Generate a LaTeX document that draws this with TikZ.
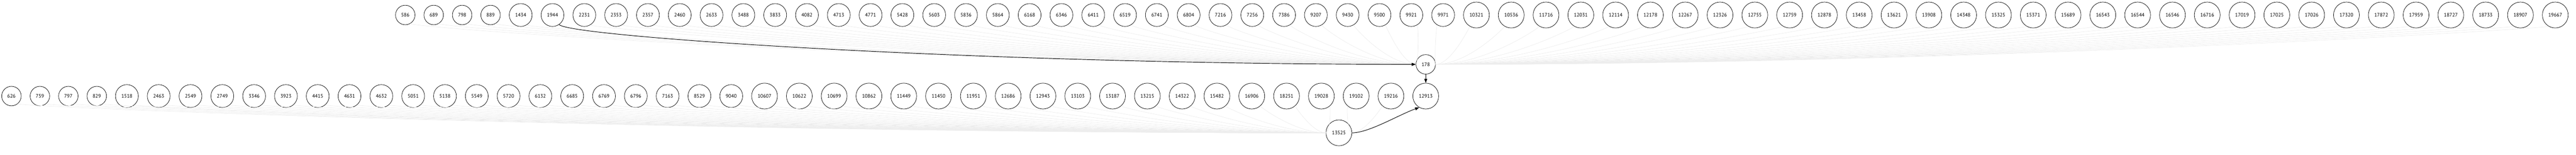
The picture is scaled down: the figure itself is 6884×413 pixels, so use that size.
\documentclass[tikz,border=0pt]{standalone}
\usepackage{fontspec}
\setmainfont{PT Sans}
\usetikzlibrary{positioning,calc,arrows.meta}

% pick the circle size from the number of digits
\newcommand\pickstyle[1]{\ifnum#1<1000 \def\sz{n3}\else\ifnum#1<10000 \def\sz{n4}\else\def\sz{n5}\fi\fi}

\begin{document}
\begin{tikzpicture}[x=1pt, y=1pt, font=\fontsize{13.5}{16}\selectfont]
    \tikzstyle{num}=[draw, circle, line width=1pt, inner sep=0pt]
    \tikzstyle{n3}=[minimum size=52pt]
    \tikzstyle{n4}=[minimum size=61pt]
    \tikzstyle{n5}=[minimum size=69pt]
    \tikzstyle{link}=[black!7, line width=1pt]
    \tikzstyle{edge}=[line width=1.3pt, -{Triangle[length=11pt,width=8pt]}]
    \useasboundingbox (0,0) rectangle (6884,-413);

    % top row
    \node[num,n3] (v586) at (1083,-40) {586};
    \foreach \n [remember=\n as \p (initially 586)] in {689,798,889,1434,1944,2231,2353,2357,2460,2633,3488,3833,4082,4713,4771,5428,5603,5836,5864,6168,6346,6411,6519,6741,6804,7216,7256,7386,9207,9430,9500,9921,9971,10321,10536,11716,12031,12114,12178,12267,12326,12755,12759,12878,13458,13621,13908,14348,15325,15371,15689,16543,16544,16546,16716,17019,17025,17026,17320,17872,17959,18727,18733,18907,19667} {
      \pickstyle{\n}
      \node[num,\sz,right=23pt of v\p] (v\n) {\n};
    }

    % bottom row
    \node[num,n3] (v626) at (30.6,-256) {626};
    \foreach \n [remember=\n as \p (initially 626)] in {759,797,829,1518,2463,2549,2749,3346,3923,4415,4631,4632,5051,5138,5549,5720,6132,6685,6769,6796,7163,8529,9040,10607,10622,10699,10862,11449,11450,11951,12686,12943,13103,13187,13215,14322,15482,16906,18251,19028,19102,19216,12913} {
      \pickstyle{\n}
      \node[num,\sz,right=23pt of v\p] (v\n) {\n};
    }

    \node[num,n3,above=23pt of v12913] (v178) {178};
    \node[num,n5] (v13525) at (3578,-354) {13525};

    % faint links
    \foreach \n in {586,689,798,889,1434,2231,2353,2357,2460,2633,3488,3833,4082,4713,4771,5428,5603,5836,5864,6168,6346,6411,6519,6741,6804,7216,7256,7386,9207,9430,9500,9921,9971,10321,10536,11716,12031,12114,12178,12267,12326,12755,12759,12878,13458,13621,13908,14348,15325,15371,15689,16543,16544,16546,16716,17019,17025,17026,17320,17872,17959,18727,18733,18907,19667} {
      \ifnum\n<9950 \def\ang{-60}\else\def\ang{-120}\fi
      \draw[link] (v\n) .. controls +(\ang:40) and ($(v178)!.5!(v178 -| v\n)$) .. (v178);
    }
    \foreach \n in {626,759,797,829,1518,2463,2549,2749,3346,3923,4415,4631,4632,5051,5138,5549,5720,6132,6685,6769,6796,7163,8529,9040,10607,10622,10699,10862,11449,11450,11951,12686,12943,13103,13187,13215,14322,15482,16906,18251,19028,19102,19216} {
      \ifnum\n>19100 \def\ang{-130}\else\def\ang{-50}\fi
      \draw[link] (v\n) .. controls +(\ang:40) and ($(v13525)!.5!(v13525 -| v\n)$) .. (v13525);
    }

    % dark edges
    \draw[edge] (v1944) .. controls +(-55:70) and +(-1200,0) .. (v178);
    \draw[edge] (v178) -- (v12913);
    \draw[edge] (v13525) .. controls +(0:80) and +(-160:60) .. (v12913.-120);
\end{tikzpicture}
\end{document}
